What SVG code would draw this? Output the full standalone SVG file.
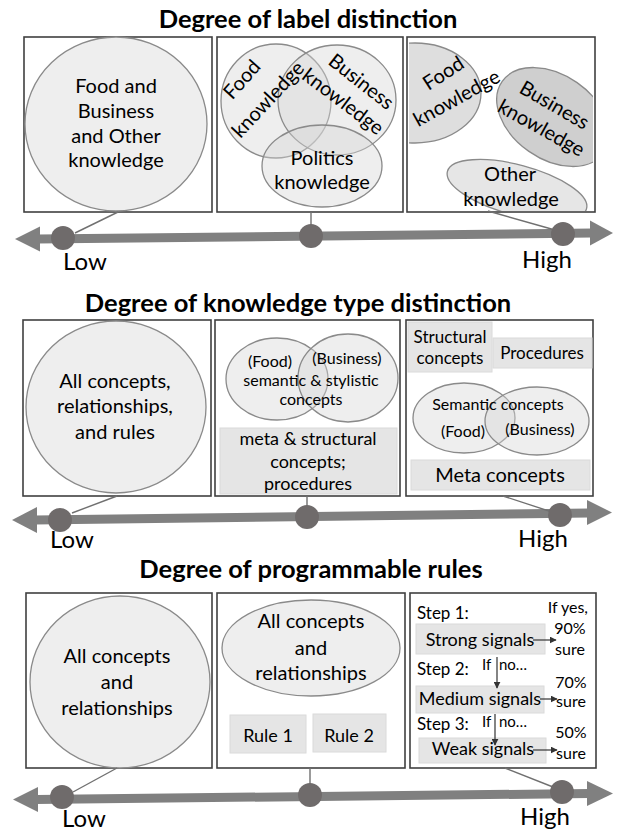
<svg xmlns="http://www.w3.org/2000/svg" width="618" height="832" viewBox="0 0 618 832">
<style>
text{font-family:Lato,"Liberation Sans",sans-serif;fill:#000;}
.title{font-weight:bold;font-size:25.5px;text-anchor:middle;}
.t20{font-size:20px;text-anchor:middle;}
.t18{font-size:18px;text-anchor:middle;}
.t17{font-size:17px;}
.t16{font-size:16px;text-anchor:middle;}
.end{font-size:24px;}
.box{fill:#fff;stroke:#404040;stroke-width:1.6;}
.bub{fill:#eeeeee;stroke:#8a8a8a;stroke-width:1.3;}
.ovl{fill:#d4d4d4;fill-opacity:0.4;stroke:#8a8a8a;stroke-width:1.3;}
.gr{fill:#e5e5e5;stroke:#dadada;stroke-width:1;}
.axis{stroke:#808080;stroke-width:9;fill:none;}
.head{fill:#808080;}
.dot{fill:#6f6b6b;}
.conn{stroke:#707070;stroke-width:1.4;fill:none;}
.sa{stroke:#333;stroke-width:1.2;fill:none;marker-end:url(#ah);}
</style>
<defs>
<marker id="ah" viewBox="0 0 10 10" refX="9" refY="5" markerWidth="7" markerHeight="7" markerUnits="userSpaceOnUse" orient="auto">
<path d="M0,0 L10,5 L0,10 z" fill="#333"/>
</marker>
<clipPath id="c3"><rect x="409" y="38" width="184" height="173"/></clipPath>
</defs>

<!-- Section 1 -->
<text class="title" x="308" y="28">Degree of label distinction</text>
<g id="s1-low">
<rect class="box" x="24" y="37" width="188" height="175"/>
<ellipse class="bub" cx="116" cy="124" rx="91" ry="87"/>
<text class="t20" x="116" y="93">Food and</text>
<text class="t20" x="116" y="118">Business</text>
<text class="t20" x="116" y="143">and Other</text>
<text class="t20" x="116" y="167">knowledge</text>
</g>
<g id="s1-mid">
<rect class="box" x="217" y="37" width="186" height="175"/>
<ellipse class="ovl" cx="276" cy="101" rx="55" ry="57"/>
<ellipse class="ovl" cx="337" cy="100" rx="59" ry="55"/>
<ellipse class="ovl" cx="322" cy="166" rx="60" ry="41"/>
<text class="t20" transform="translate(247,84) rotate(-48)">Food</text>
<text class="t20" transform="translate(273,104) rotate(-47)">knowledge</text>
<text class="t20" transform="translate(357,87) rotate(38)">Business</text>
<text class="t20" transform="translate(339,107) rotate(37)">knowledge</text>
<text class="t20" x="322" y="165">Politics</text>
<text class="t20" x="322" y="189">knowledge</text>
</g>
<g id="s1-high">
<rect class="box" x="407" y="37" width="188" height="175"/>
<g clip-path="url(#c3)">
<ellipse cx="415" cy="93" rx="66" ry="50" fill="#dedede" stroke="#8a8a8a" stroke-width="1.3"/>
<ellipse cx="553" cy="117" rx="62" ry="42" transform="rotate(35 553 117)" fill="#cfcfcf" stroke="#8a8a8a" stroke-width="1.3"/>
<ellipse cx="517" cy="190" rx="72" ry="25" transform="rotate(15 517 190)" fill="#e6e6e6" stroke="#8a8a8a" stroke-width="1.3"/>
</g>
<text class="t20" transform="translate(447,79) rotate(-33)">Food</text>
<text class="t20" transform="translate(460,104) rotate(-29)">knowledge</text>
<text class="t20" transform="translate(551,111) rotate(30)">Business</text>
<text class="t20" transform="translate(538,134) rotate(29)">knowledge</text>
<text class="t20" x="510" y="181">Other</text>
<text class="t20" x="511" y="206">knowledge</text>
</g>
<g id="s1-axis">
<path class="axis" d="M38,239 L592,233"/>
<polygon class="head" points="15,239 40,226.5 40,251.5"/>
<polygon class="head" points="613,233 590,220.5 590,245.5"/>
<text class="end" x="63" y="270">Low</text>
<text class="end" x="522" y="268">High</text>
</g>

<!-- Section 2 -->
<text class="title" x="298" y="312">Degree of knowledge type distinction</text>
<g id="s2-low">
<rect class="box" x="23" y="320" width="188" height="176"/>
<ellipse class="bub" cx="116" cy="407" rx="90" ry="86"/>
<text class="t20" x="115" y="388">All concepts,</text>
<text class="t20" x="115" y="413">relationships,</text>
<text class="t20" x="115" y="439">and rules</text>
</g>
<g id="s2-mid">
<rect class="box" x="215" y="320" width="185" height="176"/>
<ellipse class="ovl" cx="277" cy="379" rx="51" ry="41"/>
<ellipse class="ovl" cx="348" cy="378" rx="50" ry="44"/>
<text class="t16" x="270" y="367">(Food)</text>
<text class="t16" x="347" y="364">(Business)</text>
<text class="t16" x="311" y="386">semantic &amp; stylistic</text>
<text class="t16" x="311" y="405">concepts</text>
<rect class="gr" x="220" y="428" width="177" height="66"/>
<text class="t18" x="308" y="445">meta &amp; structural</text>
<text class="t18" x="308" y="468">concepts;</text>
<text class="t18" x="308" y="490">procedures</text>
</g>
<g id="s2-high">
<rect class="box" x="406" y="320" width="187" height="176"/>
<rect class="gr" x="408" y="322" width="84" height="50"/>
<text class="t17" x="450" y="343" text-anchor="middle">Structural</text>
<text class="t17" x="450" y="364" text-anchor="middle">concepts</text>
<rect class="gr" x="493" y="338" width="99" height="30"/>
<text class="t17" x="542" y="359" text-anchor="middle">Procedures</text>
<ellipse class="ovl" cx="464" cy="418" rx="51" ry="35"/>
<ellipse class="ovl" cx="537" cy="421" rx="52" ry="34"/>
<text class="t16" x="498" y="410">Semantic concepts</text>
<text class="t16" x="463" y="437">(Food)</text>
<text class="t16" x="540" y="435">(Business)</text>
<rect class="gr" x="411" y="460" width="179" height="30"/>
<text class="t20" x="500" y="482">Meta concepts</text>
</g>
<g id="s2-axis">
<path class="axis" d="M35,520 L589,513"/>
<polygon class="head" points="12,520 37,507 37,533"/>
<polygon class="head" points="612,512.5 587,500 587,525"/>
<text class="end" x="50" y="548">Low</text>
<text class="end" x="518" y="547">High</text>
</g>

<!-- Section 3 -->
<text class="title" x="311" y="578">Degree of programmable rules</text>
<g id="s3-low">
<rect class="box" x="26" y="593" width="186" height="175"/>
<ellipse class="bub" cx="120" cy="682" rx="90" ry="86"/>
<text class="t20" x="117" y="663">All concepts</text>
<text class="t20" x="117" y="689">and</text>
<text class="t20" x="117" y="715">relationships</text>
</g>
<g id="s3-mid">
<rect class="box" x="217" y="593" width="188" height="175"/>
<ellipse class="bub" cx="311" cy="648" rx="89" ry="48"/>
<text class="t20" x="311" y="628">All concepts</text>
<text class="t20" x="311" y="655">and</text>
<text class="t20" x="311" y="680">relationships</text>
<rect class="gr" x="230" y="715" width="76" height="38"/>
<text class="t18" x="268" y="742">Rule 1</text>
<rect class="gr" x="313" y="714" width="73" height="38"/>
<text class="t18" x="349" y="742">Rule 2</text>
</g>
<g id="s3-high">
<rect class="box" x="410" y="593" width="186" height="175"/>
<text class="t17" x="417" y="619">Step 1:</text>
<text class="t16" x="588" y="613" style="text-anchor:end">If yes,</text>
<text class="t16" x="570" y="634">90%</text>
<text class="t16" x="570" y="655">sure</text>
<rect class="gr" x="416" y="624" width="129" height="30"/>
<text class="t18" x="480" y="646">Strong signals</text>
<text class="t17" x="417" y="675">Step 2:</text>
<text class="t16" x="482" y="670" style="text-anchor:start;font-size:15px">If</text>
<text class="t16" x="499" y="670" style="text-anchor:start;font-size:15px">no…</text>
<text class="t16" x="571" y="688">70%</text>
<text class="t16" x="571" y="707">sure</text>
<rect class="gr" x="416" y="686" width="128" height="27"/>
<text class="t18" x="480" y="705">Medium signals</text>
<text class="t17" x="417" y="730">Step 3:</text>
<text class="t16" x="482" y="727" style="text-anchor:start;font-size:15px">If</text>
<text class="t16" x="499" y="727" style="text-anchor:start;font-size:15px">no…</text>
<text class="t16" x="571" y="738">50%</text>
<text class="t16" x="571" y="759">sure</text>
<rect class="gr" x="419" y="738" width="127" height="25"/>
<text class="t18" x="483" y="755">Weak signals</text>
</g>
<g id="s3-axis">
<path class="axis" d="M36,799.5 L589,793.5"/>
<polygon class="head" points="13,799.5 38,787 38,812"/>
<polygon class="head" points="613,793.5 587,781 587,806"/>
<text class="end" x="62" y="827">Low</text>
<text class="end" x="520" y="825">High</text>
</g>

<g id="connectors">
<path class="conn" d="M118,212 L75,233"/>
<path class="conn" d="M311,212 L311,226"/>
<path class="conn" d="M488,211 L555,230"/>
<path class="conn" d="M117,496 L72,513"/>
<path class="conn" d="M307,496 L307,507"/>
<path class="conn" d="M503,496 L552,512"/>
<path class="conn" d="M117,768 L73,792"/>
<path class="conn" d="M310,768 L310,785"/>
<path class="conn" d="M505,768 L553,787"/>
<path class="sa" d="M533,640 L556,640"/>
<path class="sa" d="M497,657 L497,688"/>
<path class="sa" d="M540,699 L557,699"/>
<path class="sa" d="M495,714 L495,745"/>
<path class="sa" d="M533,750 L557,750"/>
<circle class="dot" cx="63" cy="238" r="12"/>
<circle class="dot" cx="311" cy="236" r="12"/>
<circle class="dot" cx="563" cy="234" r="12"/>
<circle class="dot" cx="60" cy="520" r="12"/>
<circle class="dot" cx="307" cy="517" r="12"/>
<circle class="dot" cx="560" cy="515" r="12"/>
<circle class="dot" cx="62" cy="797" r="12"/>
<circle class="dot" cx="310" cy="795" r="12"/>
<circle class="dot" cx="562" cy="792" r="12"/>
</g>
</svg>
